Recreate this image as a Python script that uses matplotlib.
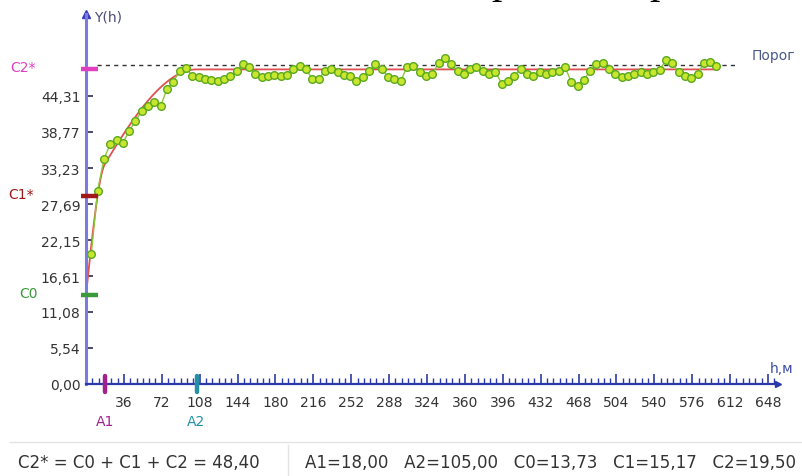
import numpy as np
import matplotlib
matplotlib.use("Agg")
import matplotlib.pyplot as plt

plt.rcParams['font.family'] = ['DejaVu Sans']

# experimental variogram: lag h (m) and gamma values
lag_h = [5 + 6 * k for k in range(100)]
gamma = [20.0, 29.7, 34.6, 36.9, 37.5, 37.1, 38.9, 40.5, 42.0, 42.8,
         43.4, 42.8, 45.4, 46.5, 48.2, 48.6, 47.4, 47.2, 46.9, 46.8,
         46.6, 46.9, 47.4, 48.2, 49.2, 48.8, 47.7, 47.2, 47.4, 47.5,
         47.4, 47.5, 48.5, 48.9, 48.5, 46.9, 46.9, 48.2, 48.5, 48.0,
         47.5, 47.4, 46.6, 47.2, 48.2, 49.2, 48.5, 47.2, 46.9, 46.6,
         48.8, 48.9, 48.0, 47.4, 47.7, 49.4, 50.2, 49.2, 48.2, 47.7,
         48.5, 48.8, 48.2, 47.7, 48.0, 46.2, 46.6, 47.4, 48.5, 47.7,
         47.4, 48.0, 47.7, 48.0, 48.2, 48.8, 46.5, 45.8, 46.8, 48.2,
         49.2, 49.4, 48.5, 47.7, 47.2, 47.4, 47.7, 48.0, 47.7, 48.0,
         48.3, 49.8, 49.4, 48.0, 47.4, 47.1, 47.7, 49.4, 49.5, 48.9]

# nested spherical model parameters
A1, A2 = 18.00, 105.00
C0, C1, C2 = 13.73, 15.17, 19.50
porog = 49.05

ytick_vals = [0.0, 5.54, 11.08, 16.61, 22.15, 27.69, 33.23, 38.77, 44.31]
ytick_labels = ["0,00", "5,54", "11,08", "16,61", "22,15", "27,69", "33,23", "38,77", "44,31"]
xtick_vals = list(range(36, 649, 36))


def sph(h, a):
    r = np.minimum(h / a, 1.0)
    return 1.5 * r - 0.5 * r ** 3


fig = plt.figure(figsize=(8.02, 4.77), dpi=100)
W, H = 802, 477
x0, x1, y0, y1 = 86, 778, 385, 15
ax = fig.add_axes([x0 / W, 1 - y0 / H, (x1 - x0) / W, (y0 - y1) / H])
ax.set_xlim(0, (x1 - x0) / 1.0525)
ax.set_ylim(0, (y0 - y1) / 6.5)

for s in ("top", "right"):
    ax.spines[s].set_visible(False)
ax.spines["left"].set_color("#7b7be0")
ax.spines["left"].set_linewidth(2.2)
ax.spines["bottom"].set_color("#2b3aa8")
ax.spines["bottom"].set_linewidth(1.6)

ax.set_yticks(ytick_vals)
ax.set_yticklabels(ytick_labels)
ax.set_xticks(xtick_vals)
ax.set_xticks(np.arange(6, 655, 6), minor=True)
ax.tick_params(axis="y", direction="in", length=5, width=1.3, color="#3a3a60",
               labelsize=10, labelcolor="#333333", pad=4)
ax.tick_params(axis="x", which="major", direction="in", length=7, width=1.2,
               color="#2b3aa8", labelsize=10, labelcolor="#333333", pad=8)
ax.tick_params(axis="x", which="minor", direction="in", length=4, width=1.0,
               color="#2b3aa8")

# axis arrows and names
ax.plot(0, 1, marker="^", ms=6, color="#3b3bbf", transform=ax.transAxes, clip_on=False)
ax.plot(1, 0, marker=">", ms=5, color="#2b3aa8", transform=ax.transAxes, clip_on=False)
ax.text(8, 56.5, "Y(h)", fontsize=10, color="#4a4a7a", va="center", ha="left")
ax.text(650, 2.4, "h,м", fontsize=10, color="#3b4aa8", va="center", ha="left", clip_on=False)

# threshold line
ax.plot([10, 618], [porog, porog], ls=(0, (3, 3)), color="#333333", lw=1.0)
ax.text(632, porog + 1.6, "Порог", fontsize=10, color="#4a5a8a", va="center",
        ha="left", clip_on=False)

# model curve
hm = np.linspace(0, 600, 1200)
model = C0 + C1 * sph(hm, A1) + C2 * sph(hm, A2)
ax.plot(hm, model, color="#e05050", lw=1.3, zorder=2)

# experimental points
ax.plot(lag_h, gamma, color="#8cc63a", lw=1.0, marker="o", ms=5.5,
        mfc="#c8e62e", mec="#5aa81e", mew=1.0, zorder=3)

# sill / nugget marks on the Y axis
c_star = [(C0 + C1 + C2, "C2*", "#e040c0", -72), (C0 + C1, "C1*", "#a01818", -74),
          (C0, "C0", "#3a9a3a", -63)]
for val, lab, col, dx in c_star:
    ax.plot([-5, 11], [val, val], color=col, lw=3.2, solid_capstyle="butt",
            clip_on=False, zorder=4)
    ax.text(dx, val + 0.3, lab, fontsize=10, color=col,
            va="center", ha="left", clip_on=False)

# range marks on the X axis
for a, lab, col in [(A1, "A1", "#a0208f"), (A2, "A2", "#2390a8")]:
    ax.plot([a, a], [-1.2, 1.3], color=col, lw=3.2, solid_capstyle="round",
            clip_on=False, zorder=4)
    ax.text(a, -5.7, lab, fontsize=10, color=col, ha="center", va="center",
            clip_on=False)

# parameter strip below the chart
fig.add_artist(plt.Line2D([10 / W, 1], [1 - 443 / H] * 2, color="#e4e4e4", lw=1))
fig.add_artist(plt.Line2D([288 / W] * 2, [0, 1 - 446 / H], color="#e4e4e4", lw=1))
fig.text(18 / W, 1 - 463 / H, "C2* = C0 + C1 + C2 = 48,40", fontsize=12,
         color="#333333", va="center", ha="left")
fig.text(305 / W, 1 - 463 / H,
         "A1=18,00   A2=105,00   C0=13,73   C1=15,17   C2=19,50",
         fontsize=12, color="#333333", va="center", ha="left")

# clipped line of text above
for px in (505, 663):
    fig.text(px / W, 1 + 7 / H, "р", fontsize=30, family="Liberation Serif",
             style="italic", color="black", ha="center", va="baseline")

fig.savefig("out.png", dpi=100)
